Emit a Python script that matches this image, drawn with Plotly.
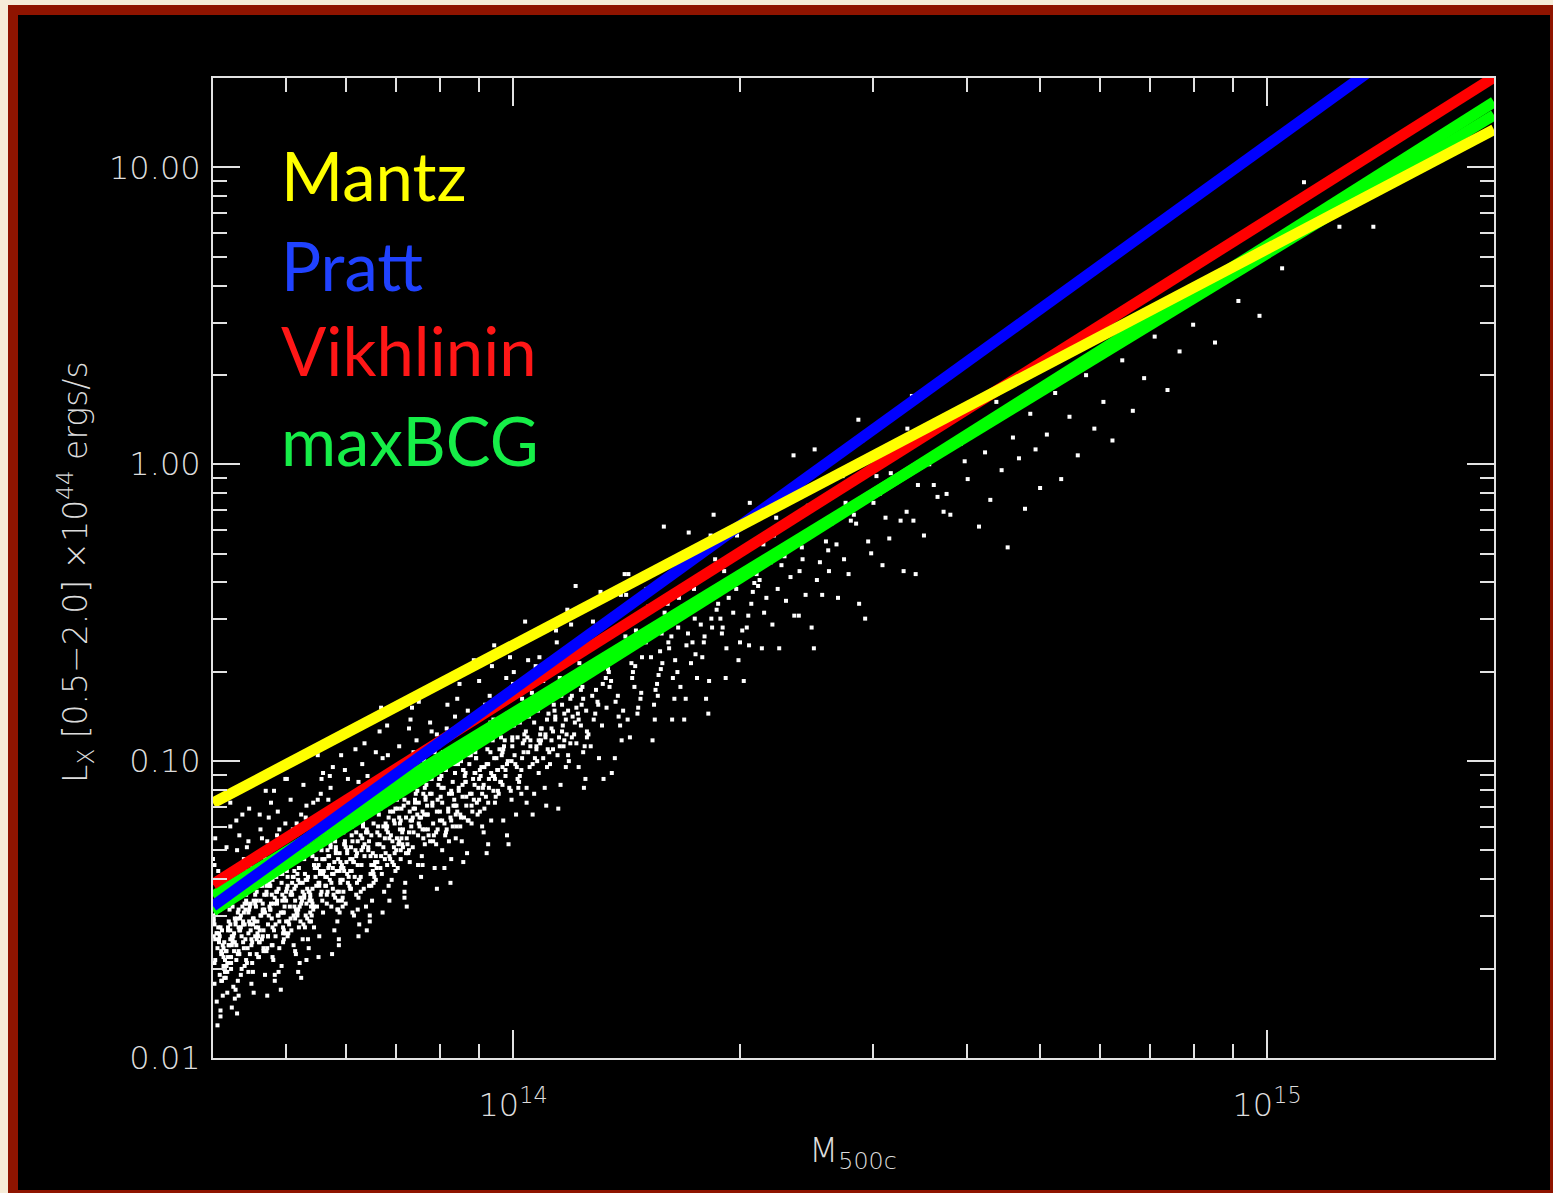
import plotly.graph_objects as go

# Scaling-relation fits: L_X (0.5-2.0 keV, 1e44 erg/s) at the two ends of the mass range
fit_mass = [4.0e13, 2.0e15]
mantz_lx = [0.0723, 13.4]
pratt_lx = [0.0325, 42.3]
vikhlinin_lx = [0.0385, 20.1]
maxbcg_shallow_lx = [0.0351, 15.0]
maxbcg_steep_lx = [0.0313, 16.6]

# Simulated clusters, grouped in narrow mass bands: log10 M500c and log10 L_X
cloud_log_mass = [
    [13.615, 13.604, 13.623, 13.610, 13.619, 13.607, 13.626, 13.613, 13.602, 13.621,
     13.609, 13.617, 13.605, 13.624, 13.612, 13.620, 13.603, 13.616, 13.625, 13.608,
     13.614, 13.622, 13.606, 13.618, 13.611, 13.615, 13.604, 13.623, 13.610, 13.619,
     13.607, 13.626, 13.613, 13.602, 13.621, 13.609, 13.617, 13.605, 13.624, 13.612,
     13.620, 13.603, 13.616, 13.625, 13.608, 13.614, 13.622, 13.606, 13.618, 13.611,
     13.615, 13.604, 13.623, 13.610, 13.619, 13.607],
    [13.649, 13.636, 13.625, 13.644, 13.632, 13.640, 13.628, 13.647, 13.635, 13.643,
     13.626, 13.639, 13.648, 13.631, 13.637, 13.645, 13.629, 13.641, 13.634, 13.638,
     13.627, 13.646, 13.633, 13.642, 13.630, 13.649, 13.636, 13.625, 13.644, 13.632,
     13.640, 13.628, 13.647, 13.635, 13.643, 13.626, 13.639, 13.648, 13.631, 13.637,
     13.645, 13.629, 13.641, 13.634, 13.638, 13.627, 13.646, 13.633, 13.642, 13.630,
     13.649, 13.636, 13.625, 13.644, 13.632, 13.640, 13.628, 13.647],
    [13.660, 13.668, 13.651, 13.664, 13.673, 13.656, 13.662, 13.670, 13.654, 13.666,
     13.659, 13.663, 13.652, 13.671, 13.658, 13.667, 13.655, 13.674, 13.661, 13.650,
     13.669, 13.657, 13.665, 13.653, 13.672, 13.660, 13.668, 13.651, 13.664, 13.673,
     13.656, 13.662, 13.670, 13.654, 13.666, 13.659, 13.663, 13.652, 13.671, 13.658,
     13.667, 13.655, 13.674, 13.661, 13.650, 13.669, 13.657, 13.665, 13.653, 13.672,
     13.660, 13.668, 13.651, 13.664, 13.673],
    [13.681, 13.687, 13.695, 13.679, 13.691, 13.684, 13.688, 13.677, 13.696, 13.683,
     13.692, 13.680, 13.699, 13.686, 13.675, 13.694, 13.682, 13.690, 13.678, 13.697,
     13.685, 13.693, 13.676, 13.689, 13.698, 13.681, 13.687, 13.695, 13.679, 13.691,
     13.684, 13.688, 13.677, 13.696, 13.683, 13.692, 13.680, 13.699, 13.686, 13.675,
     13.694, 13.682, 13.690, 13.678, 13.697, 13.685, 13.693, 13.676, 13.689, 13.698,
     13.681, 13.687, 13.695],
    [13.704, 13.716, 13.709, 13.713, 13.702, 13.721, 13.708, 13.717, 13.705, 13.724,
     13.711, 13.700, 13.719, 13.707, 13.715, 13.703, 13.722, 13.710, 13.718, 13.701,
     13.714, 13.723, 13.706, 13.712, 13.720, 13.704, 13.716, 13.709, 13.713, 13.702,
     13.721, 13.708, 13.717, 13.705, 13.724, 13.711, 13.700, 13.719, 13.707, 13.715,
     13.703, 13.722, 13.710, 13.718, 13.701, 13.714, 13.723, 13.706, 13.712, 13.720],
    [13.729, 13.741, 13.734, 13.738, 13.727, 13.746, 13.733, 13.742, 13.730, 13.749,
     13.736, 13.725, 13.744, 13.732, 13.740, 13.728, 13.747, 13.735, 13.743, 13.726,
     13.739, 13.748, 13.731, 13.737, 13.745, 13.729, 13.741, 13.734, 13.738, 13.727,
     13.746, 13.733, 13.742, 13.730, 13.749, 13.736, 13.725, 13.744, 13.732, 13.740,
     13.728, 13.747, 13.735, 13.743, 13.726, 13.739, 13.748, 13.731],
    [13.762, 13.770, 13.754, 13.766, 13.759, 13.763, 13.752, 13.771, 13.758, 13.767,
     13.755, 13.774, 13.761, 13.750, 13.769, 13.757, 13.765, 13.753, 13.772, 13.760,
     13.768, 13.751, 13.764, 13.773, 13.756, 13.762, 13.770, 13.754, 13.766, 13.759,
     13.763, 13.752, 13.771, 13.758, 13.767, 13.755, 13.774, 13.761, 13.750, 13.769,
     13.757, 13.765, 13.753, 13.772, 13.760, 13.768],
    [13.776, 13.789, 13.798, 13.781, 13.787, 13.795, 13.779, 13.791, 13.784, 13.788,
     13.777, 13.796, 13.783, 13.792, 13.780, 13.799, 13.786, 13.775, 13.794, 13.782,
     13.790, 13.778, 13.797, 13.785, 13.793, 13.776, 13.789, 13.798, 13.781, 13.787,
     13.795, 13.779, 13.791, 13.784, 13.788, 13.777, 13.796, 13.783, 13.792, 13.780,
     13.799, 13.786, 13.775, 13.794],
    [13.807, 13.815, 13.803, 13.822, 13.810, 13.818, 13.801, 13.814, 13.823, 13.806,
     13.812, 13.820, 13.804, 13.816, 13.809, 13.813, 13.802, 13.821, 13.808, 13.817,
     13.805, 13.824, 13.811, 13.800, 13.819, 13.807, 13.815, 13.803, 13.822, 13.810,
     13.818, 13.801, 13.814, 13.823, 13.806, 13.812, 13.820, 13.804, 13.816, 13.809,
     13.813],
    [13.827, 13.846, 13.833, 13.842, 13.830, 13.849, 13.836, 13.825, 13.844, 13.832,
     13.840, 13.828, 13.847, 13.835, 13.843, 13.826, 13.839, 13.848, 13.831, 13.837,
     13.845, 13.829, 13.841, 13.834, 13.838, 13.827, 13.846, 13.833, 13.842, 13.830,
     13.849, 13.836, 13.825, 13.844, 13.832, 13.840, 13.828, 13.847, 13.835],
    [13.868, 13.851, 13.864, 13.873, 13.856, 13.862, 13.870, 13.854, 13.866, 13.859,
     13.863, 13.852, 13.871, 13.858, 13.867, 13.855, 13.874, 13.861, 13.850, 13.869,
     13.857, 13.865, 13.853, 13.872, 13.860, 13.868, 13.851, 13.864, 13.873, 13.856,
     13.862, 13.870, 13.854, 13.866, 13.859, 13.863, 13.852],
    [13.896, 13.883, 13.892, 13.880, 13.899, 13.886, 13.875, 13.894, 13.882, 13.890,
     13.878, 13.897, 13.885, 13.893, 13.876, 13.889, 13.898, 13.881, 13.887, 13.895,
     13.879, 13.891, 13.884, 13.888, 13.877, 13.896, 13.883, 13.892, 13.880, 13.899,
     13.886, 13.875, 13.894, 13.882, 13.890],
    [13.903, 13.922, 13.910, 13.918, 13.901, 13.914, 13.923, 13.906, 13.912, 13.920,
     13.904, 13.916, 13.909, 13.913, 13.902, 13.921, 13.908, 13.917, 13.905, 13.924,
     13.911, 13.900, 13.919, 13.907, 13.915, 13.903, 13.922, 13.910, 13.918, 13.901,
     13.914, 13.923, 13.906],
    [13.937, 13.945, 13.929, 13.941, 13.934, 13.938, 13.927, 13.946, 13.933, 13.942,
     13.930, 13.949, 13.936, 13.925, 13.944, 13.932, 13.940, 13.928, 13.947, 13.935,
     13.943, 13.926, 13.939, 13.948, 13.931, 13.937, 13.945, 13.929, 13.941, 13.934,
     13.938],
    [13.952, 13.971, 13.958, 13.967, 13.955, 13.974, 13.961, 13.950, 13.969, 13.957,
     13.965, 13.953, 13.972, 13.960, 13.968, 13.951, 13.964, 13.973, 13.956, 13.962,
     13.970, 13.954, 13.966, 13.959, 13.963, 13.952, 13.971, 13.958, 13.967, 13.955],
    [13.999, 13.986, 13.975, 13.994, 13.982, 13.990, 13.978, 13.997, 13.985, 13.993,
     13.976, 13.989, 13.998, 13.981, 13.987, 13.995, 13.979, 13.991, 13.984, 13.988,
     13.977, 13.996, 13.983, 13.992, 13.980, 13.999, 13.986, 13.975],
    [14.019, 14.007, 14.015, 14.003, 14.022, 14.010, 14.018, 14.001, 14.014, 14.023,
     14.006, 14.012, 14.020, 14.004, 14.016, 14.009, 14.013, 14.002, 14.021, 14.008,
     14.017, 14.005, 14.024, 14.011, 14.000, 14.019],
    [14.032, 14.040, 14.028, 14.047, 14.035, 14.043, 14.026, 14.039, 14.048, 14.031,
     14.037, 14.045, 14.029, 14.041, 14.034, 14.038, 14.027, 14.046, 14.033, 14.042,
     14.030, 14.049, 14.036, 14.025, 14.044],
    [14.057, 14.065, 14.053, 14.072, 14.060, 14.068, 14.051, 14.064, 14.073, 14.056,
     14.062, 14.070, 14.054, 14.066, 14.059, 14.063, 14.052, 14.071, 14.058, 14.067,
     14.055, 14.074, 14.061],
    [14.075, 14.094, 14.082, 14.090, 14.078, 14.097, 14.085, 14.093, 14.076, 14.089,
     14.098, 14.081, 14.087, 14.095, 14.079, 14.091, 14.084, 14.088, 14.077, 14.096,
     14.083, 14.092],
    [14.105, 14.124, 14.111, 14.100, 14.119, 14.107, 14.115, 14.103, 14.122, 14.110,
     14.118, 14.101, 14.114, 14.123, 14.106, 14.112, 14.120, 14.104, 14.116, 14.109,
     14.113],
    [14.127, 14.146, 14.133, 14.142, 14.130, 14.149, 14.136, 14.125, 14.144, 14.132,
     14.140, 14.128, 14.147, 14.135, 14.143, 14.126, 14.139, 14.148, 14.131],
    [14.162, 14.170, 14.154, 14.166, 14.159, 14.163, 14.152, 14.171, 14.158, 14.167,
     14.155, 14.174, 14.161, 14.150, 14.169, 14.157, 14.165, 14.153],
    [14.197, 14.185, 14.193, 14.176, 14.189, 14.198, 14.181, 14.187, 14.195, 14.179,
     14.191, 14.184, 14.188, 14.177, 14.196, 14.183, 14.192],
    [14.205, 14.224, 14.211, 14.200, 14.219, 14.207, 14.215, 14.203, 14.222, 14.210,
     14.218, 14.201, 14.214, 14.223, 14.206, 14.212, 14.220],
    [14.229, 14.241, 14.234, 14.238, 14.227, 14.246, 14.233, 14.242, 14.230, 14.249,
     14.236, 14.225, 14.244, 14.232, 14.240],
    [14.253, 14.272, 14.260, 14.268, 14.251, 14.264, 14.273, 14.256, 14.262, 14.270,
     14.254, 14.266, 14.259, 14.263],
    [14.277, 14.296, 14.283, 14.292, 14.280, 14.299, 14.286, 14.275, 14.294, 14.282,
     14.290, 14.278, 14.297],
    [14.310, 14.318, 14.301, 14.314, 14.323, 14.306, 14.312, 14.320, 14.304, 14.316,
     14.309, 14.313],
    [14.327, 14.346, 14.333, 14.342, 14.330, 14.349, 14.336, 14.325, 14.344, 14.332,
     14.340],
    [14.353, 14.372, 14.360, 14.368, 14.351, 14.364, 14.373, 14.356, 14.362, 14.370],
    [14.379, 14.391, 14.384, 14.388, 14.377, 14.396, 14.383, 14.392, 14.380, 14.399],
    [14.411, 14.400, 14.419, 14.407, 14.415, 14.403, 14.422, 14.410, 14.418],
    [14.426, 14.439, 14.448, 14.431, 14.437, 14.445, 14.429, 14.441],
    [14.459, 14.463, 14.452, 14.471, 14.458, 14.467, 14.455],
    [14.499, 14.486, 14.475, 14.494, 14.482, 14.490, 14.478],
    [14.522, 14.510, 14.518, 14.501, 14.514, 14.523],
    [14.531, 14.537, 14.545, 14.529, 14.541, 14.534],
    [14.563, 14.552, 14.571, 14.558, 14.567],
    [14.580, 14.599, 14.586, 14.575, 14.594],
    [14.603, 14.611, 14.618, 14.626, 14.633, 14.641, 14.648, 14.656, 14.663, 14.671,
     14.679, 14.686, 14.693, 14.699, 14.708, 14.719, 14.727, 14.738, 14.749, 14.760,
     14.771, 14.783, 14.795, 14.808, 14.822, 14.837, 14.851, 14.868, 14.884, 14.902,
     14.931, 14.962, 14.990, 15.020, 15.049, 15.096, 15.141],
]
cloud_log_lx = [
    [-1.62, -1.55, -1.68, -1.49, -1.73, -1.58, -1.43, -1.65, -1.52, -1.78,
     -1.37, -1.70, -1.60, -1.46, -1.84, -1.29, -1.54, -1.63, -1.22, -1.89,
     -1.57, -1.66, -1.51, -1.71, -1.59, -1.45, -1.75, -1.54, -1.61, -1.40,
     -1.81, -1.48, -1.64, -1.33, -1.68, -1.56, -1.73, -1.26, -1.50, -1.86,
     -1.64, -1.53, -1.69, -1.60, -1.48, -1.74, -1.56, -1.41, -1.67, -1.50,
     -1.79, -1.35, -1.62, -1.58, -1.71, -1.44],
    [-1.27, -1.79, -1.14, -1.48, -1.55, -1.59, -1.46, -1.68, -1.51, -1.63,
     -1.43, -1.72, -1.35, -1.53, -1.65, -1.38, -1.76, -1.49, -1.30, -1.57,
     -1.83, -1.45, -1.20, -1.61, -1.58, -1.51, -1.64, -1.45, -1.69, -1.54,
     -1.39, -1.61, -1.48, -1.74, -1.33, -1.66, -1.56, -1.42, -1.80, -1.25,
     -1.50, -1.59, -1.18, -1.85, -1.53, -1.62, -1.47, -1.67, -1.55, -1.41,
     -1.71, -1.50, -1.57, -1.36, -1.77, -1.44, -1.60, -1.29],
    [-1.60, -1.48, -1.65, -1.18, -1.42, -1.78, -1.56, -1.45, -1.61, -1.52,
     -1.40, -1.66, -1.48, -1.33, -1.59, -1.42, -1.71, -1.27, -1.54, -1.50,
     -1.63, -1.36, -1.23, -1.75, -1.10, -1.44, -1.51, -1.55, -1.42, -1.64,
     -1.47, -1.59, -1.39, -1.68, -1.31, -1.49, -1.61, -1.34, -1.72, -1.45,
     -1.26, -1.53, -1.79, -1.41, -1.16, -1.57, -1.54, -1.47, -1.60, -1.41,
     -1.65, -1.50, -1.35, -1.57, -1.44],
    [-1.66, -1.25, -1.58, -1.48, -1.34, -1.72, -1.17, -1.42, -1.51, -1.10,
     -1.77, -1.45, -1.54, -1.39, -1.59, -1.47, -1.33, -1.63, -1.42, -1.49,
     -1.28, -1.69, -1.36, -1.52, -1.21, -1.56, -1.44, -1.61, -1.14, -1.38,
     -1.74, -1.52, -1.41, -1.57, -1.48, -1.36, -1.62, -1.44, -1.29, -1.55,
     -1.38, -1.67, -1.23, -1.50, -1.46, -1.59, -1.32, -1.19, -1.71, -1.06,
     -1.40, -1.47, -1.51],
    [-1.34, -1.56, -1.39, -1.51, -1.31, -1.60, -1.23, -1.41, -1.53, -1.26,
     -1.64, -1.37, -1.18, -1.45, -1.71, -1.33, -1.08, -1.49, -1.46, -1.39,
     -1.52, -1.33, -1.57, -1.42, -1.27, -1.49, -1.36, -1.62, -1.21, -1.54,
     -1.44, -1.30, -1.68, -1.13, -1.38, -1.47, -1.06, -1.73, -1.41, -1.50,
     -1.35, -1.55, -1.43, -1.29, -1.59, -1.38, -1.45, -1.24, -1.65, -1.32],
    [-1.44, -1.13, -1.48, -1.36, -1.53, -1.06, -1.30, -1.66, -1.44, -1.33,
     -1.49, -1.40, -1.28, -1.54, -1.36, -1.21, -1.47, -1.30, -1.59, -1.15,
     -1.42, -1.38, -1.51, -1.24, -1.11, -1.63, -0.98, -1.32, -1.39, -1.43,
     -1.30, -1.52, -1.35, -1.47, -1.27, -1.56, -1.19, -1.37, -1.49, -1.22,
     -1.60, -1.33, -1.14, -1.41, -1.67, -1.29, -1.04, -1.45],
    [-1.38, -1.31, -1.44, -1.25, -1.49, -1.34, -1.19, -1.41, -1.28, -1.54,
     -1.13, -1.46, -1.36, -1.22, -1.60, -1.05, -1.30, -1.39, -0.98, -1.65,
     -1.33, -1.42, -1.27, -1.47, -1.35, -1.21, -1.51, -1.30, -1.37, -1.16,
     -1.57, -1.24, -1.40, -1.09, -1.44, -1.32, -1.49, -1.02, -1.26, -1.62,
     -1.40, -1.29, -1.45, -1.36, -1.24, -1.50],
    [-1.28, -1.13, -1.39, -1.22, -1.51, -1.07, -1.34, -1.30, -1.43, -1.16,
     -1.03, -1.55, -0.90, -1.24, -1.31, -1.35, -1.22, -1.44, -1.27, -1.39,
     -1.19, -1.48, -1.11, -1.29, -1.41, -1.14, -1.52, -1.25, -1.06, -1.33,
     -1.59, -1.21, -0.96, -1.37, -1.34, -1.27, -1.40, -1.21, -1.45, -1.30,
     -1.15, -1.37, -1.24, -1.50],
    [-1.05, -1.38, -1.28, -1.14, -1.52, -0.97, -1.22, -1.31, -0.90, -1.57,
     -1.25, -1.34, -1.19, -1.39, -1.27, -1.13, -1.43, -1.22, -1.29, -1.08,
     -1.49, -1.16, -1.32, -1.01, -1.36, -1.24, -1.41, -0.94, -1.18, -1.54,
     -1.32, -1.21, -1.37, -1.28, -1.16, -1.42, -1.24, -1.09, -1.35, -1.18,
     -1.47],
    [-0.99, -1.26, -1.22, -1.35, -1.08, -0.95, -1.47, -0.82, -1.16, -1.23,
     -1.27, -1.14, -1.36, -1.19, -1.31, -1.11, -1.40, -1.03, -1.21, -1.33,
     -1.06, -1.44, -1.17, -0.98, -1.25, -1.51, -1.13, -0.88, -1.29, -1.26,
     -1.19, -1.32, -1.13, -1.37, -1.22, -1.07, -1.29, -1.16, -1.42],
    [-0.97, -1.30, -1.20, -1.06, -1.44, -0.89, -1.14, -1.23, -0.82, -1.49,
     -1.17, -1.26, -1.11, -1.31, -1.19, -1.05, -1.35, -1.14, -1.21, -1.00,
     -1.41, -1.08, -1.24, -0.93, -1.28, -1.16, -1.33, -0.86, -1.10, -1.46,
     -1.24, -1.13, -1.29, -1.20, -1.08, -1.34, -1.16],
    [-0.97, -1.23, -1.06, -1.35, -0.91, -1.18, -1.14, -1.27, -1.00, -0.87,
     -1.39, -0.74, -1.08, -1.15, -1.19, -1.06, -1.28, -1.11, -1.23, -1.03,
     -1.32, -0.95, -1.13, -1.25, -0.98, -1.36, -1.09, -0.90, -1.17, -1.43,
     -1.05, -0.80, -1.21, -1.18, -1.11],
    [-1.20, -1.01, -1.25, -1.10, -0.95, -1.17, -1.04, -1.30, -0.89, -1.22,
     -1.12, -0.98, -1.36, -0.81, -1.06, -1.15, -0.74, -1.41, -1.09, -1.18,
     -1.03, -1.23, -1.11, -0.97, -1.27, -1.06, -1.13, -0.92, -1.33, -1.00,
     -1.16, -0.85, -1.20],
    [-1.04, -1.21, -0.74, -0.98, -1.34, -1.12, -1.01, -1.17, -1.08, -0.96,
     -1.22, -1.04, -0.89, -1.15, -0.98, -1.27, -0.83, -1.10, -1.06, -1.19,
     -0.92, -0.79, -1.31, -0.66, -1.00, -1.07, -1.11, -0.98, -1.20, -1.03,
     -1.15],
    [-0.91, -1.20, -0.83, -1.01, -1.13, -0.86, -1.24, -0.97, -0.78, -1.05,
     -1.31, -0.93, -0.68, -1.09, -1.06, -0.99, -1.12, -0.93, -1.17, -1.02,
     -0.87, -1.09, -0.96, -1.22, -0.81, -1.14, -1.04, -0.90, -1.28, -0.73],
    [-0.93, -1.02, -0.61, -1.28, -0.96, -1.05, -0.90, -1.10, -0.98, -0.84,
     -1.14, -0.93, -1.00, -0.79, -1.20, -0.87, -1.03, -0.72, -1.07, -0.95,
     -1.12, -0.65, -0.89, -1.25, -1.03, -0.92, -1.08, -0.99],
    [-0.83, -1.09, -0.91, -0.76, -1.02, -0.85, -1.14, -0.70, -0.97, -0.93,
     -1.06, -0.79, -0.66, -1.18, -0.53, -0.87, -0.94, -0.98, -0.85, -1.07,
     -0.90, -1.02, -0.82, -1.11, -0.74, -0.92],
    [-1.00, -0.73, -1.11, -0.84, -0.65, -0.92, -1.18, -0.80, -0.55, -0.96,
     -0.93, -0.86, -0.99, -0.80, -1.04, -0.89, -0.74, -0.96, -0.83, -1.09,
     -0.68, -1.01, -0.91, -0.77, -1.15],
    [-0.56, -0.81, -0.90, -0.49, -1.16, -0.84, -0.93, -0.78, -0.98, -0.86,
     -0.72, -1.02, -0.81, -0.88, -0.67, -1.08, -0.75, -0.91, -0.60, -0.95,
     -0.83, -1.00, -0.53],
    [-0.73, -1.09, -0.87, -0.76, -0.92, -0.83, -0.71, -0.97, -0.79, -0.64,
     -0.90, -0.73, -1.02, -0.58, -0.85, -0.81, -0.94, -0.67, -0.54, -1.06,
     -0.41, -0.75],
    [-0.78, -0.82, -0.69, -0.91, -0.74, -0.86, -0.66, -0.95, -0.58, -0.76,
     -0.88, -0.61, -0.99, -0.72, -0.53, -0.80, -1.06, -0.68, -0.43, -0.84,
     -0.81],
    [-0.70, -0.83, -0.64, -0.88, -0.73, -0.58, -0.80, -0.67, -0.93, -0.52,
     -0.85, -0.75, -0.61, -0.99, -0.44, -0.69, -0.78, -0.37, -1.04],
    [-0.68, -0.77, -0.62, -0.82, -0.70, -0.56, -0.86, -0.65, -0.72, -0.51,
     -0.92, -0.59, -0.75, -0.44, -0.79, -0.67, -0.84, -0.37],
    [-0.57, -0.93, -0.71, -0.60, -0.76, -0.67, -0.55, -0.81, -0.63, -0.48,
     -0.74, -0.57, -0.86, -0.42, -0.69, -0.65, -0.78],
    [-0.47, -0.34, -0.86, -0.21, -0.55, -0.62, -0.66, -0.53, -0.75, -0.58,
     -0.70, -0.50, -0.79, -0.42, -0.60, -0.72, -0.45],
    [-0.79, -0.52, -0.33, -0.60, -0.86, -0.48, -0.23, -0.64, -0.61, -0.54,
     -0.67, -0.48, -0.72, -0.57, -0.42],
    [-0.60, -0.47, -0.73, -0.32, -0.65, -0.55, -0.41, -0.79, -0.24, -0.49,
     -0.58, -0.17, -0.84, -0.52],
    [-0.57, -0.42, -0.62, -0.50, -0.36, -0.66, -0.45, -0.52, -0.31, -0.72,
     -0.39, -0.55, -0.24],
    [-0.55, -0.43, -0.60, -0.13, -0.37, -0.73, -0.51, -0.40, -0.56, -0.47,
     -0.35, -0.61],
    [-0.39, -0.24, -0.50, -0.33, -0.62, -0.18, -0.45, -0.41, -0.54, -0.27,
     -0.14],
    [-0.62, 0.03, -0.31, -0.38, -0.42, -0.29, -0.51, -0.34, -0.46, -0.26],
    [-0.51, -0.14, -0.32, -0.44, -0.17, -0.55, -0.28, -0.09, -0.36, -0.62],
    [-0.20, 0.05, -0.36, -0.33, -0.26, -0.39, -0.20, -0.44, -0.29],
    [-0.10, -0.32, -0.19, -0.45, -0.04, -0.37, -0.27, -0.13],
    [-0.47, 0.08, -0.17, -0.26, 0.15, -0.52, -0.20],
    [-0.25, -0.10, -0.30, -0.18, -0.04, -0.34, -0.13],
    [-0.16, 0.05, -0.36, -0.03, -0.19, 0.12],
    [-0.19, -0.07, -0.24, 0.23, -0.01, -0.37],
    [-0.11, 0.00, -0.16, -0.07, 0.05],
    [-0.17, 0.01, 0.16, -0.10, 0.07],
    [-0.05, 0.12, -0.21, 0.04, -0.12, 0.21, -0.02, -0.28, 0.09, 0.02,
     -0.15, 0.17, 0.05, -0.08, 0.10, 0.24, -0.05, 0.16, 0.03, 0.30,
     0.12, 0.21, 0.08, 0.35, 0.18, 0.29, 0.43, 0.25, 0.38, 0.47,
     0.41, 0.55, 0.50, 0.66, 0.95, 0.80, 0.80],
]

# Densest part of the low-mass population (same units)
core_log_mass = [
    [13.608, 13.620, 13.603, 13.614, 13.625, 13.611, 13.617, 13.605, 13.622, 13.613,
     13.602, 13.619, 13.610, 13.626, 13.607, 13.616, 13.623, 13.604, 13.612, 13.621],
    [13.631, 13.643, 13.626, 13.637, 13.648, 13.634, 13.640, 13.628, 13.645, 13.636,
     13.625, 13.642, 13.633, 13.649, 13.630, 13.639, 13.646, 13.627, 13.635, 13.644],
    [13.656, 13.668, 13.651, 13.662, 13.673, 13.659, 13.665, 13.653, 13.670, 13.661,
     13.650, 13.667, 13.658, 13.674, 13.655, 13.664, 13.671, 13.652, 13.660, 13.669],
    [13.681, 13.693, 13.676, 13.687, 13.698, 13.684, 13.690, 13.678, 13.695, 13.686,
     13.675, 13.692, 13.683, 13.699, 13.680, 13.689, 13.696, 13.677, 13.685, 13.694],
    [13.706, 13.718, 13.701, 13.712, 13.723, 13.709, 13.715, 13.703, 13.720, 13.711,
     13.700, 13.717, 13.708, 13.724, 13.705, 13.714, 13.721, 13.702, 13.710, 13.719],
    [13.731, 13.743, 13.726, 13.737, 13.748, 13.734, 13.740, 13.728, 13.745, 13.736,
     13.725, 13.742, 13.733, 13.749, 13.730, 13.739, 13.746, 13.727, 13.735, 13.744],
    [13.756, 13.768, 13.751, 13.762, 13.773, 13.759, 13.765, 13.753, 13.770, 13.761,
     13.750, 13.767, 13.758, 13.774, 13.755, 13.764, 13.771, 13.752, 13.760, 13.769],
    [13.781, 13.793, 13.776, 13.787, 13.798, 13.784, 13.790, 13.778, 13.795, 13.786,
     13.775, 13.792, 13.783, 13.799, 13.780, 13.789, 13.796, 13.777, 13.785, 13.794],
    [13.806, 13.818, 13.801, 13.812, 13.823, 13.809, 13.815, 13.803, 13.820, 13.811,
     13.800, 13.817, 13.808, 13.824, 13.805],
    [13.831, 13.843, 13.826, 13.837, 13.848, 13.834, 13.840, 13.828, 13.845, 13.836,
     13.825, 13.842, 13.833, 13.849, 13.830],
    [13.856, 13.868, 13.851, 13.862, 13.873, 13.859, 13.865, 13.853, 13.870, 13.861,
     13.850, 13.867, 13.858, 13.874, 13.855],
    [13.881, 13.893, 13.876, 13.887, 13.898, 13.884, 13.890, 13.878, 13.895, 13.886,
     13.875, 13.892, 13.883, 13.899, 13.880],
    [13.906, 13.918, 13.901, 13.912, 13.923, 13.909, 13.915, 13.903, 13.920, 13.911,
     13.900, 13.917, 13.908, 13.924, 13.905],
    [13.931, 13.943, 13.926, 13.937, 13.948, 13.934, 13.940, 13.928, 13.945, 13.936,
     13.925, 13.942, 13.933, 13.949, 13.930],
    [13.956, 13.968, 13.951, 13.962, 13.973, 13.959, 13.965, 13.953, 13.970, 13.961,
     13.950, 13.967, 13.958, 13.974, 13.955],
    [13.981, 13.993, 13.976, 13.987, 13.998, 13.984, 13.990, 13.978, 13.995, 13.986,
     13.975, 13.992, 13.983, 13.999, 13.980],
    [14.006, 14.018, 14.001, 14.012, 14.023, 14.009, 14.015, 14.003, 14.020, 14.011],
    [14.031, 14.043, 14.026, 14.037, 14.048, 14.034, 14.040, 14.028, 14.045, 14.036],
    [14.056, 14.068, 14.051, 14.062, 14.073, 14.059, 14.065, 14.053, 14.070, 14.061],
    [14.081, 14.093, 14.076, 14.087, 14.098, 14.084, 14.090, 14.078, 14.095, 14.086],
]
core_log_lx = [
    [-1.63, -1.69, -1.59, -1.65, -1.55, -1.72, -1.61, -1.67, -1.57, -1.74,
     -1.53, -1.64, -1.60, -1.70, -1.58, -1.66, -1.62, -1.68, -1.56, -1.71],
    [-1.61, -1.51, -1.68, -1.57, -1.63, -1.53, -1.70, -1.49, -1.60, -1.56,
     -1.66, -1.54, -1.62, -1.58, -1.64, -1.52, -1.67, -1.59, -1.65, -1.55],
    [-1.53, -1.59, -1.49, -1.66, -1.45, -1.56, -1.52, -1.62, -1.50, -1.58,
     -1.54, -1.60, -1.48, -1.63, -1.55, -1.61, -1.51, -1.57, -1.47, -1.64],
    [-1.62, -1.41, -1.52, -1.48, -1.58, -1.46, -1.54, -1.50, -1.56, -1.44,
     -1.59, -1.51, -1.57, -1.47, -1.53, -1.43, -1.60, -1.49, -1.55, -1.45],
    [-1.44, -1.54, -1.42, -1.50, -1.46, -1.52, -1.40, -1.55, -1.47, -1.53,
     -1.43, -1.49, -1.39, -1.56, -1.45, -1.51, -1.41, -1.58, -1.37, -1.48],
    [-1.46, -1.42, -1.48, -1.36, -1.51, -1.43, -1.49, -1.39, -1.45, -1.35,
     -1.52, -1.41, -1.47, -1.37, -1.54, -1.33, -1.44, -1.40, -1.50, -1.38],
    [-1.32, -1.47, -1.39, -1.45, -1.35, -1.41, -1.31, -1.48, -1.37, -1.43,
     -1.33, -1.50, -1.29, -1.40, -1.36, -1.46, -1.34, -1.42, -1.38, -1.44],
    [-1.41, -1.31, -1.37, -1.27, -1.44, -1.33, -1.39, -1.29, -1.46, -1.25,
     -1.36, -1.32, -1.42, -1.30, -1.38, -1.34, -1.40, -1.28, -1.43, -1.35],
    [-1.23, -1.40, -1.29, -1.35, -1.25, -1.42, -1.21, -1.32, -1.28, -1.38,
     -1.26, -1.34, -1.30, -1.36, -1.24],
    [-1.31, -1.21, -1.38, -1.17, -1.28, -1.24, -1.34, -1.22, -1.30, -1.26,
     -1.32, -1.20, -1.35, -1.27, -1.33],
    [-1.13, -1.24, -1.20, -1.30, -1.18, -1.26, -1.22, -1.28, -1.16, -1.31,
     -1.23, -1.29, -1.19, -1.25, -1.15],
    [-1.26, -1.14, -1.22, -1.18, -1.24, -1.12, -1.27, -1.19, -1.25, -1.15,
     -1.21, -1.11, -1.28, -1.17, -1.23],
    [-1.14, -1.20, -1.08, -1.23, -1.15, -1.21, -1.11, -1.17, -1.07, -1.24,
     -1.13, -1.19, -1.09, -1.26, -1.05],
    [-1.19, -1.11, -1.17, -1.07, -1.13, -1.03, -1.20, -1.09, -1.15, -1.05,
     -1.22, -1.01, -1.12, -1.08, -1.18],
    [-1.03, -1.09, -0.99, -1.16, -1.05, -1.11, -1.01, -1.18, -0.97, -1.08,
     -1.04, -1.14, -1.02, -1.10, -1.06],
    [-1.11, -1.00, -1.06, -0.96, -1.13, -0.92, -1.03, -0.99, -1.09, -0.97,
     -1.05, -1.01, -1.07, -0.95, -1.10],
    [-0.92, -1.09, -0.88, -0.99, -0.95, -1.05, -0.93, -1.01, -0.97, -1.03],
    [-0.95, -0.91, -1.01, -0.89, -0.97, -0.93, -0.99, -0.87, -1.02, -0.94],
    [-0.85, -0.93, -0.89, -0.95, -0.83, -0.98, -0.90, -0.96, -0.86, -0.92],
    [-0.91, -0.79, -0.94, -0.86, -0.92, -0.82, -0.88, -0.78, -0.95, -0.84],
]

x_tick_vals = [1e14, 1e15]
x_tick_text = ["10<sup>14</sup>", "10<sup>15</sup>"]
x_minor_vals = [5e13, 6e13, 7e13, 8e13, 9e13, 2e14, 3e14, 4e14, 5e14, 6e14,
                7e14, 8e14, 9e14, 2e15]
y_tick_vals = [0.01, 0.1, 1.0, 10.0]
y_tick_text = ["0.01", "0.10", "1.00", "10.00"]
y_minor_vals = [0.02, 0.03, 0.04, 0.05, 0.06, 0.07, 0.08, 0.09,
                0.2, 0.3, 0.4, 0.5, 0.6, 0.7, 0.8, 0.9,
                2, 3, 4, 5, 6, 7, 8, 9, 20]

legend_names = ["Mantz", "Pratt", "Vikhlinin", "maxBCG"]
legend_colors = ["#ffff00", "#2042ff", "#ff1717", "#16ee48"]

AXIS_COLOR = "#e2e2e2"
TICK_FONT = dict(family="DejaVu Sans", size=32, color="#dcdcdc", weight=200)

# flatten the mass bands into one point list
cluster_m, cluster_l = [], []
for bands_m, bands_l in [(cloud_log_mass, cloud_log_lx), (core_log_mass, core_log_lx)]:
    for band_m, band_l in zip(bands_m, bands_l):
        for m, l in zip(band_m, band_l):
            cluster_m.append(10 ** m)
            cluster_l.append(10 ** l)

fig = go.Figure()

fig.add_trace(go.Scatter(
    x=cluster_m, y=cluster_l,
    mode="markers",
    marker=dict(symbol="square", size=4, color="white", line=dict(width=0)),
    hoverinfo="skip", showlegend=False,
))

line_w = 11
for lx, col in [(maxbcg_shallow_lx, "#00ff00"), (maxbcg_steep_lx, "#00ff00"),
                (vikhlinin_lx, "#ff0000"), (pratt_lx, "#0000ff"),
                (mantz_lx, "#ffff00")]:
    fig.add_trace(go.Scatter(x=fit_mass, y=lx, mode="lines",
                             line=dict(color=col, width=line_w),
                             hoverinfo="skip", showlegend=False))

fig.update_xaxes(
    type="log", range=[13.60206, 15.30103],
    showline=True, linecolor=AXIS_COLOR, linewidth=2, mirror="allticks",
    showgrid=False, zeroline=False,
    ticks="inside", ticklen=28, tickwidth=2, tickcolor=AXIS_COLOR,
    tickvals=x_tick_vals, ticktext=x_tick_text,
    tickfont=TICK_FONT, ticklabelstandoff=18,
    minor=dict(ticks="inside", ticklen=14, tickwidth=2, tickcolor=AXIS_COLOR,
               tickvals=x_minor_vals, showgrid=False),
)
fig.update_yaxes(
    type="log", range=[-2, 1.30103],
    showline=True, linecolor=AXIS_COLOR, linewidth=2, mirror="allticks",
    showgrid=False, zeroline=False,
    ticks="inside", ticklen=27, tickwidth=2, tickcolor=AXIS_COLOR,
    tickvals=y_tick_vals, ticktext=y_tick_text,
    tickfont=TICK_FONT, ticklabelstandoff=4,
    minor=dict(ticks="inside", ticklen=14, tickwidth=2, tickcolor=AXIS_COLOR,
               tickvals=y_minor_vals, showgrid=False),
)

W, H = 1553, 1193
ML, MR, MT, MB = 213, 59, 78, 135
PW, PH = W - ML - MR, H - MT - MB


def px_x(px):
    return (px - ML) / PW


def px_y(py):
    return (H - MB - py) / PH


shapes = [
    dict(type="rect", xref="paper", yref="paper", layer="below",
         x0=px_x(8), x1=px_x(1600), y0=px_y(1250), y1=px_y(5),
         fillcolor="#8f1400", line=dict(width=0)),
    dict(type="rect", xref="paper", yref="paper", layer="below",
         x0=px_x(18), x1=px_x(1550), y0=px_y(1190), y1=px_y(15),
         fillcolor="#000000", line=dict(width=0)),
]

annotations = []
legend_y = [175, 265, 350, 440]
for name, col, yy in zip(legend_names, legend_colors, legend_y):
    annotations.append(dict(
        text=name, xref="paper", yref="paper", x=px_x(279), y=px_y(yy),
        xanchor="left", yanchor="middle", showarrow=False,
        font=dict(family="Lato", size=67, color=col)))

annotations.append(dict(
    text="L<sub>X</sub> [0.5\u22122.0] \u00d710<sup>44</sup> ergs/s",
    xref="paper", yref="paper", x=px_x(75), y=px_y(572),
    xanchor="center", yanchor="middle", textangle=-90, showarrow=False,
    font=dict(family="DejaVu Sans", size=33, color="#dcdcdc", weight=200)))
annotations.append(dict(
    text="M<sub>500c</sub>",
    xref="paper", yref="paper", x=px_x(853), y=px_y(1152),
    xanchor="center", yanchor="middle", showarrow=False,
    font=dict(family="DejaVu Sans", size=34, color="#dcdcdc", weight=200)))

fig.update_layout(
    width=W, height=H,
    margin=dict(l=ML, r=MR, t=MT, b=MB, pad=0),
    paper_bgcolor="#f6ecd8", plot_bgcolor="#000000",
    shapes=shapes, annotations=annotations, showlegend=False,
)

fig.write_html("out.html")
